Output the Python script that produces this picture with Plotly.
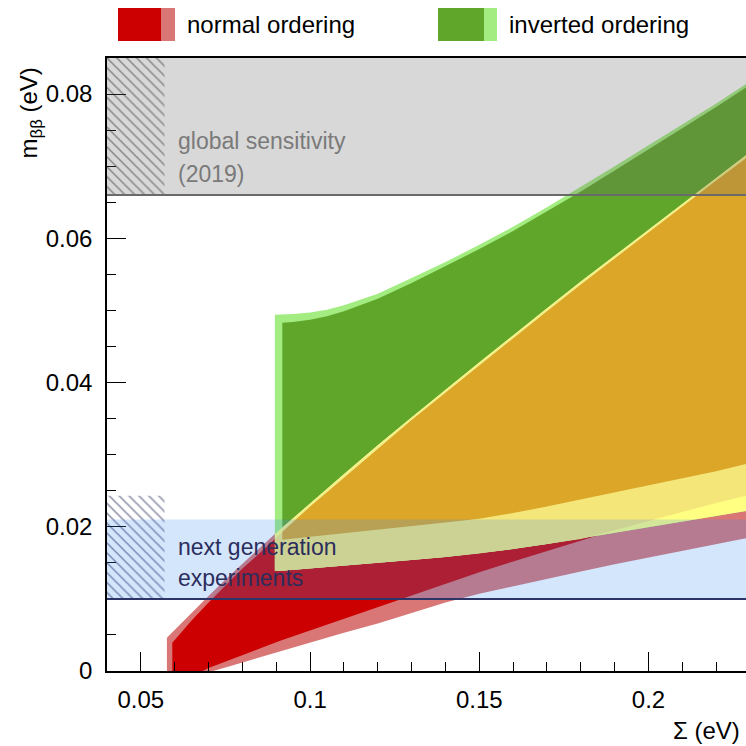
import numpy as np
import plotly.graph_objects as go

# ---------------- data ----------------
# common Sigma grid where both orderings exist
sigma_tail = [0.0896, 0.0918, 0.095, 0.10, 0.105, 0.11, 0.12, 0.13, 0.14, 0.15,
              0.16, 0.17, 0.18, 0.19, 0.20, 0.21, 0.22, 0.2288]

# normal ordering, outer (light) band
no_out_hi_sigma = [0.0577, 0.060, 0.0625, 0.065, 0.07, 0.075, 0.08, 0.085] + sigma_tail
no_out_hi = [0.0046, 0.0057, 0.0069, 0.0081, 0.0104, 0.0127, 0.0149, 0.0170,
             0.0190, 0.0199, 0.0212, 0.0233, 0.0253, 0.0273, 0.0313, 0.0352, 0.0390,
             0.0428, 0.0466, 0.0503, 0.0540, 0.0576, 0.0612, 0.0648, 0.0684, 0.0715]
no_out_lo_sigma = [0.0577, 0.0713, 0.075, 0.08, 0.085] + sigma_tail
no_out_lo = [0.0, 0.0, 0.0005, 0.0012, 0.0019,
             0.0025, 0.0028, 0.0032, 0.0039, 0.0046, 0.0053, 0.0066, 0.0080, 0.0095,
             0.0107, 0.0117, 0.0128, 0.0138, 0.0148, 0.0158, 0.0167, 0.0176, 0.0184]

# normal ordering, inner (dark) band
no_in_hi_sigma = [0.0593, 0.060, 0.0625, 0.065, 0.07, 0.075, 0.08, 0.085] + sigma_tail
no_in_hi = [0.0039, 0.0043, 0.0057, 0.0070, 0.0095, 0.0119, 0.0142, 0.0163,
            0.0183, 0.0193, 0.0207, 0.0228, 0.0248, 0.0268, 0.0308, 0.0348, 0.0386,
            0.0424, 0.0462, 0.0499, 0.0536, 0.0572, 0.0608, 0.0645, 0.0680, 0.0711]
no_in_lo_sigma = [0.0593, 0.0683, 0.07, 0.075, 0.08, 0.085] + sigma_tail
no_in_lo = [0.0, 0.0, 0.0004, 0.0013, 0.0022, 0.0031,
            0.0039, 0.0043, 0.0048, 0.0057, 0.0065, 0.0073, 0.0089, 0.0105, 0.0121,
            0.0137, 0.0152, 0.0167, 0.0181, 0.0195, 0.0208, 0.0221, 0.0233, 0.0243]

# inverted ordering, outer (light) band
io_out_sigma = sigma_tail
io_out_hi = [0.0494, 0.0494, 0.0495, 0.0497, 0.0501, 0.0507, 0.0523, 0.0545, 0.0567,
             0.0591, 0.0616, 0.0643, 0.0671, 0.0700, 0.0729, 0.0758, 0.0787, 0.0814]
io_out_lo = [0.0139, 0.0139, 0.0140, 0.0142, 0.0144, 0.0146, 0.0150, 0.0154, 0.0158,
             0.0163, 0.0169, 0.0176, 0.0183, 0.0191, 0.0199, 0.0207, 0.0215, 0.0222]

# inverted ordering, inner (dark) band
io_in_sigma = sigma_tail[1:]
io_in_hi = [0.0483, 0.0484, 0.0487, 0.0492, 0.0499, 0.0516, 0.0538, 0.0561, 0.0585,
            0.0610, 0.0637, 0.0665, 0.0694, 0.0723, 0.0752, 0.0782, 0.0809]
io_in_lo = [0.0182, 0.0183, 0.0186, 0.0188, 0.0191, 0.0196, 0.0201, 0.0206, 0.0211,
            0.0219, 0.0228, 0.0237, 0.0247, 0.0257, 0.0267, 0.0277, 0.0287]

# sensitivity bands
global_sensitivity = [0.066, 0.085]
next_generation = [0.010, 0.021]
hatch_sigma = [0.04, 0.057]
global_hatch = [0.066, 0.085]
next_hatch = [0.010, 0.0243]

x_range = [0.04, 0.2288]
y_range = [0.0, 0.085]

# ---------------- colours ----------------
C_NO_DARK = "#cc0000"
C_NO_LIGHT = "#d97676"
C_IO_DARK = "#5fa62a"
C_IO_LIGHT = "#a3ec82"
C_ORANGE = "#dca628"
C_LYELLOW = "#f5e67a"
C_BYELLOW = "#ffff82"
C_DIAG = "#f2f08a"


def at(sig, vals, grid):
    d = dict(zip(sig, vals))
    return np.array([d[g] for g in grid])


def band(fig, sx_hi, y_hi, sx_lo, y_lo, color):
    xs = list(sx_hi) + list(sx_lo)[::-1]
    ys = list(y_hi) + list(y_lo)[::-1]
    fig.add_trace(go.Scatter(x=xs, y=ys, fill="toself", fillcolor=color,
                             mode="lines", line=dict(width=0, color=color),
                             hoverinfo="skip", showlegend=False))


def overlap(fig, grid, lo_list, hi_list, color):
    lo = np.max(np.vstack(lo_list), axis=0)
    hi = np.min(np.vstack(hi_list), axis=0)
    hi = np.maximum(hi, lo)
    band(fig, grid, hi, grid, lo, color)


fig = go.Figure()

# base bands
band(fig, no_out_hi_sigma, no_out_hi, no_out_lo_sigma, no_out_lo, C_NO_LIGHT)
band(fig, no_in_hi_sigma, no_in_hi, no_in_lo_sigma, no_in_lo, C_NO_DARK)
band(fig, io_out_sigma, io_out_hi, io_out_sigma, io_out_lo, C_IO_LIGHT)
band(fig, io_in_sigma, io_in_hi, io_in_sigma, io_in_lo, C_IO_DARK)

# overlaps
g_out = io_out_sigma
g_in = io_in_sigma
overlap(fig, g_out,
        [np.array(io_out_lo), at(no_out_lo_sigma, no_out_lo, g_out)],
        [np.array(io_out_hi), at(no_out_hi_sigma, no_out_hi, g_out)], C_BYELLOW)
overlap(fig, g_out,
        [np.array(io_out_lo), at(no_in_lo_sigma, no_in_lo, g_out)],
        [np.array(io_out_hi), at(no_in_hi_sigma, no_in_hi, g_out)], C_LYELLOW)
overlap(fig, g_in,
        [np.array(io_in_lo), at(no_out_lo_sigma, no_out_lo, g_in)],
        [np.array(io_in_hi), at(no_out_hi_sigma, no_out_hi, g_in)], C_DIAG)
overlap(fig, g_in,
        [np.array(io_in_lo), at(no_in_lo_sigma, no_in_lo, g_in)],
        [np.array(io_in_hi), at(no_in_hi_sigma, no_in_hi, g_in)], C_ORANGE)

# hatched boxes
for yy, col in ((global_hatch, "#2a2a2a"), (next_hatch, "#161b4c")):
    fig.add_trace(go.Scatter(
        x=[hatch_sigma[0], hatch_sigma[1], hatch_sigma[1], hatch_sigma[0], hatch_sigma[0]],
        y=[yy[0], yy[0], yy[1], yy[1], yy[0]],
        fill="toself", fillcolor="rgba(0,0,0,0)", mode="lines",
        line=dict(width=0, color="rgba(0,0,0,0)"),
        fillpattern=dict(shape="\\", fgcolor=col, bgcolor="rgba(0,0,0,0)",
                         size=7, solidity=0.22),
        hoverinfo="skip", showlegend=False))

shapes = [
    dict(type="rect", xref="x domain", yref="y", x0=0, x1=1,
         y0=global_sensitivity[0], y1=global_sensitivity[1],
         fillcolor="rgba(100,100,100,0.25)", line=dict(width=0), layer="above"),
    dict(type="line", xref="x domain", yref="y", x0=0, x1=1,
         y0=global_sensitivity[0], y1=global_sensitivity[0],
         line=dict(color="#6a6a6a", width=2), layer="above"),
    dict(type="rect", xref="x domain", yref="y", x0=0, x1=1,
         y0=next_generation[0], y1=next_generation[1],
         fillcolor="rgba(60,140,240,0.22)", line=dict(width=0), layer="above"),
    dict(type="line", xref="x domain", yref="y", x0=0, x1=1,
         y0=next_generation[0], y1=next_generation[0],
         line=dict(color="#2d3468", width=2), layer="above"),
]

# legend boxes (paper coords, pixel-derived)
W, H = 746, 746
L, R, T, B = 107, 0, 58, 75
pw, ph = W - L - R, H - T - B


def px(xp):
    return (xp - L) / pw


def py(yp):
    return (H - B - yp) / ph


shapes += [
    dict(type="rect", xref="paper", yref="paper", x0=px(118), x1=px(161), y0=py(41), y1=py(8),
         fillcolor=C_NO_DARK, line=dict(width=0)),
    dict(type="rect", xref="paper", yref="paper", x0=px(161), x1=px(175), y0=py(41), y1=py(8),
         fillcolor=C_NO_LIGHT, line=dict(width=0)),
    dict(type="rect", xref="paper", yref="paper", x0=px(438), x1=px(484), y0=py(41), y1=py(8),
         fillcolor=C_IO_DARK, line=dict(width=0)),
    dict(type="rect", xref="paper", yref="paper", x0=px(484), x1=px(497), y0=py(41), y1=py(8),
         fillcolor=C_IO_LIGHT, line=dict(width=0)),
]

FONT = "Liberation Sans, Arial, Helvetica, sans-serif"
annotations = [
    dict(xref="paper", yref="paper", x=px(185), y=py(25), text="normal ordering",
         showarrow=False, xanchor="left", yanchor="middle", font=dict(size=24, color="black")),
    dict(xref="paper", yref="paper", x=px(507), y=py(25), text="inverted ordering",
         showarrow=False, xanchor="left", yanchor="middle", font=dict(size=24, color="black")),
    dict(xref="x", yref="y", x=0.0604, y=0.0735, text="global sensitivity",
         showarrow=False, xanchor="left", yanchor="middle", font=dict(size=23, color="#7a7a7a")),
    dict(xref="x", yref="y", x=0.0604, y=0.0689, text="(2019)",
         showarrow=False, xanchor="left", yanchor="middle", font=dict(size=23, color="#7a7a7a")),
    dict(xref="x", yref="y", x=0.0604, y=0.0172, text="next generation",
         showarrow=False, xanchor="left", yanchor="middle", font=dict(size=23, color="#2b2d5c")),
    dict(xref="x", yref="y", x=0.0604, y=0.0129, text="experiments",
         showarrow=False, xanchor="left", yanchor="middle", font=dict(size=23, color="#2b2d5c")),
    dict(xref="paper", yref="paper", x=px(30), y=py(66), text="m<sub>ββ</sub> (eV)",
         textangle=-90, showarrow=False, xanchor="center", yanchor="top",
         font=dict(size=24, color="black")),
    dict(xref="paper", yref="paper", x=px(742), y=py(730), text="Σ (eV)",
         showarrow=False, xanchor="right", yanchor="middle", font=dict(size=24, color="black")),
]

fig.update_layout(
    width=W, height=H,
    margin=dict(l=L, r=R, t=T, b=B, pad=0),
    paper_bgcolor="white", plot_bgcolor="white",
    font=dict(family=FONT, size=24, color="black"),
    shapes=shapes, annotations=annotations, showlegend=False,
)
fig.update_xaxes(range=x_range, showgrid=False, zeroline=False,
                 showline=True, linecolor="black", linewidth=1.5, mirror=True,
                 ticks="inside", ticklen=19, tickcolor="black", tickwidth=1.2,
                 tick0=0.05, dtick=0.05, ticklabelstandoff=6,
                 minor=dict(ticks="inside", ticklen=9, dtick=0.01, tick0=0.0,
                            tickcolor="black", tickwidth=1.2, showgrid=False),
                 tickfont=dict(size=24))
fig.update_yaxes(range=y_range, showgrid=False, zeroline=False,
                 showline=True, linecolor="black", linewidth=1.5,
                 ticks="inside", ticklen=19, tickcolor="black", tickwidth=1.2,
                 tick0=0.0, dtick=0.02, ticklabelstandoff=8,
                 minor=dict(ticks="inside", ticklen=9, dtick=0.005, tick0=0.0,
                            tickcolor="black", tickwidth=1.2, showgrid=False),
                 tickfont=dict(size=24))

fig.write_html(
    "out.html",
    config={"displayModeBar": False},
    post_script="document.body.style.margin='0px';document.body.style.overflow='hidden';",
)
